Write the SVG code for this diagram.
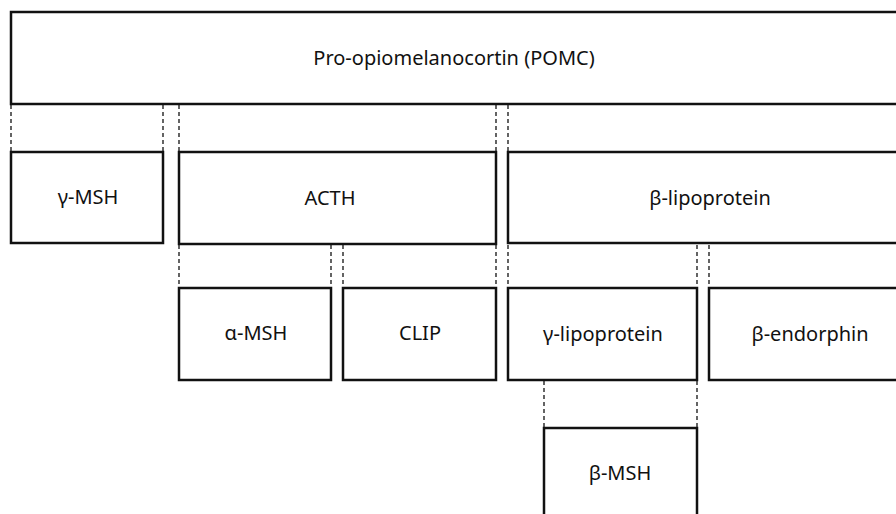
<svg xmlns="http://www.w3.org/2000/svg" width="896" height="514" viewBox="0 0 896 514">
<style>
.box{fill:#fff;stroke:#111;stroke-width:2.5}
.lbl{font-family:"Noto Sans","DejaVu Sans",sans-serif;font-size:20px;fill:#111;text-anchor:middle;dominant-baseline:central}
.dash{stroke:#111;stroke-width:1.3;stroke-dasharray:4 3;fill:none}
</style>
<rect width="896" height="514" fill="#fff"/>
<g id="connectors">
<path class="dash" d="M11,105V151M163,105V151M179,105V151M496,105V151M508,105V151"/>
<path class="dash" d="M179,245V287M331,245V287M343,245V287M496,245V287M508,245V287M697,245V287M709,245V287"/>
<path class="dash" d="M544,381V427M697,381V427"/>
</g>
<g id="pomc"><rect class="box" x="11" y="12" width="900" height="92"/><text class="lbl" x="454" y="57">Pro-opiomelanocortin (POMC)</text></g>
<g id="gmsh"><rect class="box" x="11" y="152" width="152" height="91"/><text class="lbl" x="88" y="196">γ-MSH</text></g>
<g id="acth"><rect class="box" x="179" y="152" width="317" height="92"/><text class="lbl" x="330" y="197">ACTH</text></g>
<g id="blipo"><rect class="box" x="508" y="152" width="404" height="91"/><text class="lbl" x="710" y="197">β-lipoprotein</text></g>
<g id="amsh"><rect class="box" x="179" y="288" width="152" height="92"/><text class="lbl" x="256" y="332">α-MSH</text></g>
<g id="clip"><rect class="box" x="343" y="288" width="153" height="92"/><text class="lbl" x="420" y="332">CLIP</text></g>
<g id="glipo"><rect class="box" x="508" y="288" width="189" height="92"/><text class="lbl" x="603" y="333">γ-lipoprotein</text></g>
<g id="bendo"><rect class="box" x="709" y="288" width="203" height="92"/><text class="lbl" x="810" y="333">β-endorphin</text></g>
<g id="bmsh"><rect class="box" x="544" y="428" width="153" height="100"/><text class="lbl" x="620" y="472">β-MSH</text></g>
</svg>
